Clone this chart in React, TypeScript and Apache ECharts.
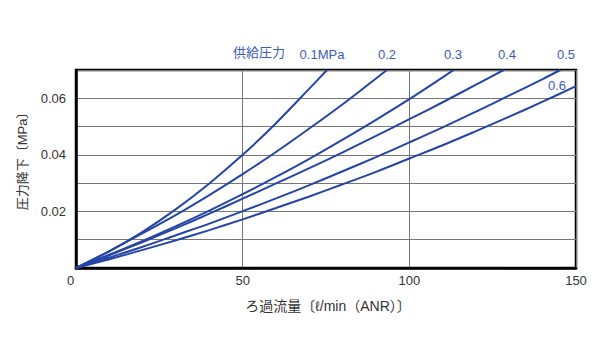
import React, { useEffect, useRef } from "react";
import * as echarts from "echarts";

// Flow rate (ℓ/min ANR) vs pressure drop (MPa), one curve per supply pressure
const pressureLabels = ["0.1MPa", "0.2", "0.3", "0.4", "0.5", "0.6"];

const p01: number[][] = [[0, 0], [10, 0.0059], [20, 0.0128], [30, 0.0208], [40, 0.0299], [50, 0.04], [60, 0.0512], [70, 0.0634], [75.3, 0.07]];
const p02: number[][] = [[0, 0], [10, 0.006], [20, 0.0123], [30, 0.0188], [40, 0.0258], [50, 0.0332], [60, 0.041], [70, 0.0493], [80, 0.0579], [90, 0.067], [93.3, 0.07]];
const p03: number[][] = [[0, 0], [10, 0.0047], [20, 0.0096], [30, 0.0148], [40, 0.0203], [50, 0.0261], [60, 0.0322], [70, 0.0386], [80, 0.0454], [90, 0.0524], [100, 0.0597], [110, 0.0674], [113.3, 0.07]];
const p04: number[][] = [[0, 0], [10, 0.0045], [20, 0.0092], [30, 0.0141], [40, 0.0192], [50, 0.0245], [60, 0.0299], [70, 0.0353], [80, 0.0409], [90, 0.0467], [100, 0.0526], [110, 0.0586], [120, 0.0648], [128.3, 0.07]];
const p05: number[][] = [[0, 0], [10, 0.0037], [20, 0.0075], [30, 0.0116], [40, 0.0157], [50, 0.0201], [60, 0.0246], [70, 0.0293], [80, 0.0342], [90, 0.0392], [100, 0.0444], [110, 0.0497], [120, 0.0553], [130, 0.061], [140, 0.0668], [145.3, 0.07]];
const p06: number[][] = [[0, 0], [10, 0.0031], [20, 0.0064], [30, 0.0098], [40, 0.0134], [50, 0.0172], [60, 0.0212], [70, 0.0253], [80, 0.0296], [90, 0.034], [100, 0.0387], [110, 0.0434], [120, 0.0484], [130, 0.0535], [140, 0.0588], [150, 0.0643]];

const xTickLabels = ["0", "50", "100", "150"];
const yTickLabels = ["0.02", "0.04", "0.06"];

const FONT = "'Liberation Sans', 'Noto Sans CJK JP', sans-serif";
const LINE = "#2445a5";
const LABEL_BLUE = "#3b5cb8";

export default function App() {
  const ref = useRef<HTMLDivElement>(null);
  useEffect(() => {
    if (!ref.current) return;
    const chart = echarts.init(ref.current, undefined, { renderer: "svg" });
    const allSeries = [p01, p02, p03, p04, p05, p06];
    chart.setOption({
      animation: false,
      backgroundColor: "#ffffff",
      grid: { left: 76, right: 24, top: 70, bottom: 92, show: true, borderColor: "#000", borderWidth: 2.5, backgroundColor: "transparent" },
      xAxis: {
        type: "value",
        min: 0,
        max: 150,
        interval: 50,
        axisLine: { show: true, lineStyle: { color: "#000", width: 2.5 } },
        axisTick: { show: false },
        axisLabel: {
          color: "#333",
          fontSize: 13,
          fontFamily: FONT,
          margin: 6,
          formatter: (v: number) => {
            const s = String(v);
            return xTickLabels.includes(s) ? (s === "0" ? "0   " : s) : "";
          },
        },
        splitLine: { show: true, lineStyle: { color: "#777", width: 1 } },
      },
      yAxis: {
        type: "value",
        min: 0,
        max: 0.07,
        interval: 0.01,
        axisLine: { show: true, lineStyle: { color: "#000", width: 2.5 } },
        axisTick: { show: false },
        axisLabel: {
          color: "#333",
          fontSize: 13,
          fontFamily: FONT,
          margin: 10,
          formatter: (v: number) => {
            const s = v.toFixed(2);
            return yTickLabels.includes(s) ? s : "";
          },
        },
        splitLine: { show: true, lineStyle: { color: "#777", width: 1 } },
      },
      series: allSeries.map((d, i) => ({
        type: "line",
        name: pressureLabels[i],
        data: d,
        smooth: 0.3,
        showSymbol: false,
        lineStyle: { color: LINE, width: 2 },
      })),
      graphic: [
        { type: "text", left: 233, top: 46, style: { text: "供給圧力", fill: LABEL_BLUE, font: `13px ${FONT}` } },
        { type: "text", x: 322, y: 54, style: { text: pressureLabels[0], fill: LABEL_BLUE, font: `13px ${FONT}`, align: "center", verticalAlign: "middle" } },
        { type: "text", x: 387, y: 54, style: { text: pressureLabels[1], fill: LABEL_BLUE, font: `13px ${FONT}`, align: "center", verticalAlign: "middle" } },
        { type: "text", x: 453, y: 54, style: { text: pressureLabels[2], fill: LABEL_BLUE, font: `13px ${FONT}`, align: "center", verticalAlign: "middle" } },
        { type: "text", x: 507, y: 54, style: { text: pressureLabels[3], fill: LABEL_BLUE, font: `13px ${FONT}`, align: "center", verticalAlign: "middle" } },
        { type: "text", x: 566, y: 54, style: { text: pressureLabels[4], fill: LABEL_BLUE, font: `13px ${FONT}`, align: "center", verticalAlign: "middle" } },
        { type: "text", x: 557, y: 85, style: { text: pressureLabels[5], fill: LABEL_BLUE, font: `13px ${FONT}`, align: "center", verticalAlign: "middle" } },
        { type: "text", x: 22, y: 158, rotation: Math.PI / 2, style: { text: "圧力降下〔MPa〕", fill: "#333", font: `13px ${FONT}`, align: "center", verticalAlign: "middle" } },
        { type: "text", x: 328, y: 306, style: { text: "ろ過流量〔ℓ/min（ANR）〕", fill: "#333", font: `14px ${FONT}`, align: "center", verticalAlign: "middle" } },
      ],
    });
    return () => chart.dispose();
  }, []);
  return <div ref={ref} style={{ position: "fixed", left: 0, top: 0, width: 600, height: 360 }} />;
}
